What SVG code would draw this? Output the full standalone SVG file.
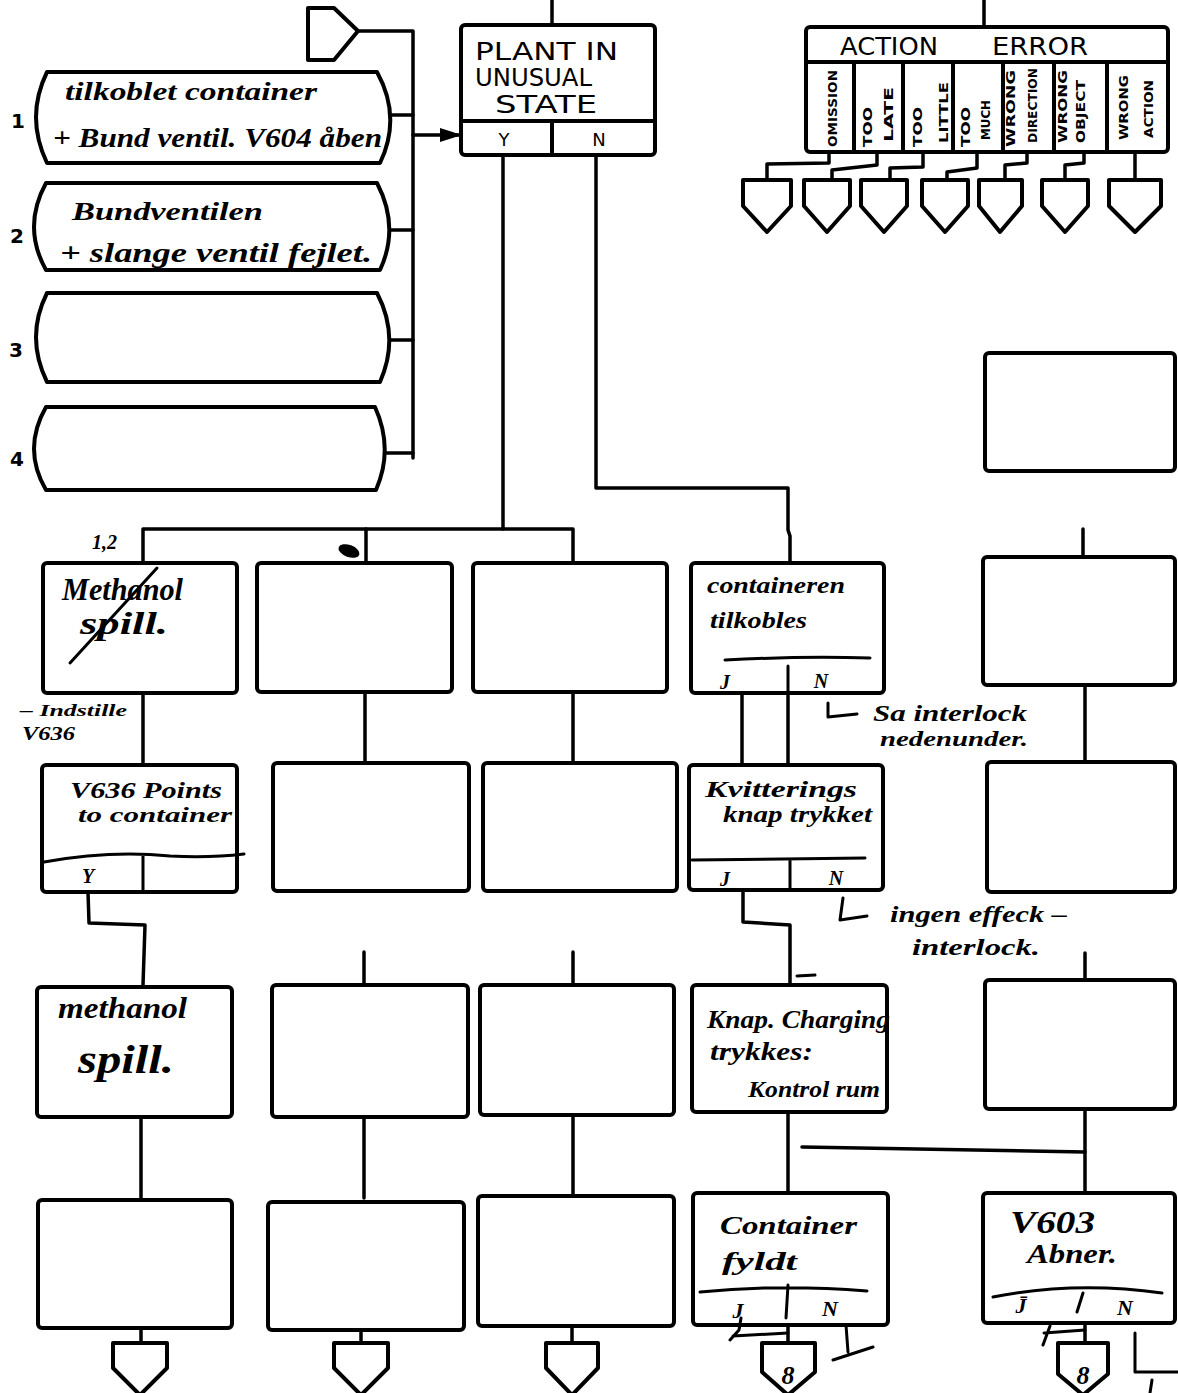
<svg xmlns="http://www.w3.org/2000/svg" width="1178" height="1393" viewBox="0 0 1178 1393">
<style>
.box{fill:#fff;stroke:#000;stroke-width:4;stroke-linejoin:round}
.ln{fill:none;stroke:#000;stroke-width:3.5;stroke-linecap:round;stroke-linejoin:round}
.hl{fill:none;stroke:#000;stroke-width:3;stroke-linecap:round;stroke-linejoin:round}
.hw{font-family:"Liberation Serif","DejaVu Serif",serif;font-style:italic;font-weight:bold;fill:#000}
.cap{font-family:"DejaVu Sans","Liberation Sans",sans-serif;fill:#000}
.col{font-family:"DejaVu Sans","Liberation Sans",sans-serif;font-weight:bold;font-size:12px;fill:#000}
.num{font-family:"DejaVu Sans","Liberation Sans",sans-serif;font-weight:bold;font-size:20px;fill:#000}
</style>
<defs>
<marker id="arr" markerUnits="userSpaceOnUse" markerWidth="22" markerHeight="14" refX="21" refY="7" orient="auto">
<path d="M0,0 L22,7 L0,14 Z" fill="#000"/>
</marker>
</defs>

<g id="connectors">
<path class="ln" d="M358 31 L413 31 L413 458"/>
<path class="ln" d="M391 115 L413 115"/>
<path class="ln" d="M390 230 L413 230"/>
<path class="ln" d="M390 340 L413 340"/>
<path class="ln" d="M385 453 L413 453"/>
<path class="ln" d="M413 135 L461 135" marker-end="url(#arr)"/>
<path class="ln" d="M552 0 L552 25"/>
<path class="ln" d="M984 0 L984 27"/>
<path class="ln" d="M829 152 L829 163 L767 164 L767 180"/>
<path class="ln" d="M877 152 L877 165 L832 170 L832 180"/>
<path class="ln" d="M923 152 L923 167 L890 168 L890 180"/>
<path class="ln" d="M977 152 L977 168 L947 172 L947 180"/>
<path class="ln" d="M1027 152 L1027 163 L1005 165 L1005 180"/>
<path class="ln" d="M1084 152 L1084 163 L1065 165 L1065 180"/>
<path class="ln" d="M1135 152 L1135 180"/>
<path class="ln" d="M503 155 L503 529"/>
<path class="ln" d="M143 563 L143 529 L573 529 L573 563"/>
<path class="ln" d="M366 529 L366 563"/>
<path class="ln" d="M596 155 L596 488 L788 488 L788 530 L790 536 L790 563"/>
<path class="ln" d="M143 693 L143 765"/>
<path class="ln" d="M365 692 L365 763"/>
<path class="ln" d="M573 692 L573 763"/>
<path class="ln" d="M742 693 L742 765"/>
<path class="ln" d="M788 693 L788 765"/>
<path class="ln" d="M1083 529 L1083 557"/>
<path class="ln" d="M1085 685 L1085 762"/>
<path class="ln" d="M88 892 L89 923 L145 925 L143 985"/>
<path class="ln" d="M364 952 L364 985"/>
<path class="ln" d="M573 952 L573 985"/>
<path class="ln" d="M743 890 L743 922 L790 925 L790 985"/>
<path class="hl" d="M797 976 L815 975"/>
<path class="ln" d="M1085 953 L1085 980"/>
<path class="ln" d="M141 1117 L141 1198"/>
<path class="ln" d="M364 1117 L364 1198"/>
<path class="ln" d="M573 1115 L573 1196"/>
<path class="ln" d="M788 1112 L788 1193"/>
<path class="ln" d="M1085 1109 L1085 1193"/>
<path class="ln" d="M802 1147 L1085 1152"/>
<path class="ln" d="M141 1328 L141 1343"/>
<path class="ln" d="M361 1330 L361 1343"/>
<path class="ln" d="M572 1326 L572 1343"/>
<path class="ln" d="M788 1325 L788 1343"/>
<path class="ln" d="M1085 1323 L1085 1343"/>
</g>

<g id="offpage-in"><path class="box" d="M308 8 L334 8 L358 31 L334 60 L308 60 Z"/></g>

<g id="cond-1">
<path class="box" d="M47 72 L377 72 Q402 117 380 163 L47 163 Q25 117 47 72 Z"/>
<text class="num" x="11" y="128">1</text>
<text class="hw" x="65" y="100" font-size="26" textLength="252" lengthAdjust="spacingAndGlyphs">tilkoblet container</text>
<text class="hw" x="53" y="147" font-size="28" textLength="329" lengthAdjust="spacingAndGlyphs">+ Bund ventil. V604 åben</text>
</g>
<g id="cond-2">
<path class="box" d="M46 183 L377 183 Q400 227 380 270 L46 270 Q22 227 46 183 Z"/>
<text class="num" x="10" y="243">2</text>
<text class="hw" x="72" y="220" font-size="26" textLength="191" lengthAdjust="spacingAndGlyphs">Bundventilen</text>
<text class="hw" x="60" y="262" font-size="28" textLength="312" lengthAdjust="spacingAndGlyphs">+ slange ventil fejlet.</text>
</g>
<g id="cond-3">
<path class="box" d="M47 293 L377 293 Q400 337 380 382 L47 382 Q25 337 47 293 Z"/>
<text class="num" x="9" y="357">3</text>
</g>
<g id="cond-4">
<path class="box" d="M46 407 L375 407 Q394 449 376 490 L46 490 Q22 449 46 407 Z"/>
<text class="num" x="10" y="466">4</text>
</g>

<g id="plant-state">
<rect class="box" x="461" y="25" width="194" height="130" rx="4"/>
<path class="box" d="M461 121 L655 121 M552 121 L552 155"/>
<text class="cap" x="475" y="60" font-size="24" textLength="143" lengthAdjust="spacingAndGlyphs">PLANT IN</text>
<text class="cap" x="475" y="86" font-size="24" textLength="117" lengthAdjust="spacingAndGlyphs">UNUSUAL</text>
<text class="cap" x="495" y="113" font-size="24" textLength="102" lengthAdjust="spacingAndGlyphs">STATE</text>
<text class="cap" x="504" y="146" font-size="18" text-anchor="middle">Y</text>
<text class="cap" x="599" y="146" font-size="18" text-anchor="middle">N</text>
</g>

<g id="action-error">
<rect class="box" x="806" y="27" width="362" height="125" rx="4"/>
<path class="box" d="M806 62 L1168 62 M854 62 L854 152 M903 62 L903 152 M953 62 L953 152 M1003 62 L1003 152 M1054 62 L1054 152 M1107 62 L1107 152"/>
<text class="cap" x="840" y="55" font-size="24" textLength="98" lengthAdjust="spacingAndGlyphs">ACTION</text>
<text class="cap" x="992" y="55" font-size="24" textLength="96" lengthAdjust="spacingAndGlyphs">ERROR</text>
<text class="col" transform="translate(837,147) rotate(-90)" textLength="77" lengthAdjust="spacingAndGlyphs">OMISSION</text>
<text class="col" transform="translate(872,147) rotate(-90)" textLength="40" lengthAdjust="spacingAndGlyphs">TOO</text>
<text class="col" transform="translate(893,142) rotate(-90)" textLength="55" lengthAdjust="spacingAndGlyphs">LATE</text>
<text class="col" transform="translate(922,147) rotate(-90)" textLength="40" lengthAdjust="spacingAndGlyphs">TOO</text>
<text class="col" transform="translate(948,143) rotate(-90)" textLength="61" lengthAdjust="spacingAndGlyphs">LITTLE</text>
<text class="col" transform="translate(970,147) rotate(-90)" textLength="40" lengthAdjust="spacingAndGlyphs">TOO</text>
<text class="col" transform="translate(990,140) rotate(-90)" textLength="40" lengthAdjust="spacingAndGlyphs">MUCH</text>
<text class="col" transform="translate(1015,147) rotate(-90)" textLength="77" lengthAdjust="spacingAndGlyphs">WRONG</text>
<text class="col" transform="translate(1037,143) rotate(-90)" textLength="75" lengthAdjust="spacingAndGlyphs">DIRECTION</text>
<text class="col" transform="translate(1067,143) rotate(-90)" textLength="73" lengthAdjust="spacingAndGlyphs">WRONG</text>
<text class="col" transform="translate(1085,143) rotate(-90)" textLength="63" lengthAdjust="spacingAndGlyphs">OBJECT</text>
<text class="col" transform="translate(1128,140) rotate(-90)" textLength="65" lengthAdjust="spacingAndGlyphs">WRONG</text>
<text class="col" transform="translate(1153,138) rotate(-90)" textLength="58" lengthAdjust="spacingAndGlyphs">ACTION</text>
</g>

<g id="out-1"><path class="box" d="M743 180 L791 180 L791 206 L767 232 L743 206 Z"/></g>
<g id="out-2"><path class="box" d="M804 180 L850 180 L850 206 L827 232 L804 206 Z"/></g>
<g id="out-3"><path class="box" d="M861 180 L907 180 L907 206 L884 232 L861 206 Z"/></g>
<g id="out-4"><path class="box" d="M922 180 L968 180 L968 206 L945 232 L922 206 Z"/></g>
<g id="out-5"><path class="box" d="M979 180 L1022 180 L1022 206 L1000 232 L979 206 Z"/></g>
<g id="out-6"><path class="box" d="M1042 180 L1088 180 L1088 206 L1065 232 L1042 206 Z"/></g>
<g id="out-7"><path class="box" d="M1109 180 L1161 180 L1161 206 L1135 232 L1109 206 Z"/></g>

<g id="label-12">
<text class="hw" x="92" y="549" font-size="20">1,2</text>
<ellipse cx="349" cy="551" rx="11" ry="6" fill="#000" transform="rotate(20 349 551)"/>
</g>

<g id="r1-a">
<rect class="box" x="43" y="563" width="194" height="130" rx="4"/>
<text class="hw" x="62" y="600" font-size="32" textLength="121" lengthAdjust="spacingAndGlyphs">Methanol</text>
<text class="hw" x="80" y="634" font-size="32" textLength="88" lengthAdjust="spacingAndGlyphs">spill.</text>
<path class="hl" d="M70 663 L157 568"/>
</g>
<g id="r1-b"><rect class="box" x="257" y="563" width="195" height="129" rx="4"/></g>
<g id="r1-c"><rect class="box" x="473" y="563" width="194" height="129" rx="4"/></g>
<g id="r1-d">
<rect class="box" x="691" y="563" width="193" height="130" rx="4"/>
<text class="hw" x="707" y="593" font-size="24" textLength="138" lengthAdjust="spacingAndGlyphs">containeren</text>
<text class="hw" x="710" y="628" font-size="24" textLength="97" lengthAdjust="spacingAndGlyphs">tilkobles</text>
<path class="hl" d="M725 660 Q800 656 870 658 M788 666 L788 693"/>
<text class="hw" x="725" y="689" font-size="20" text-anchor="middle">J</text>
<text class="hw" x="821" y="688" font-size="20" text-anchor="middle">N</text>
</g>

<g id="note-interlock">
<path class="hl" d="M828 703 L828 717 L857 714"/>
<text class="hw" x="873" y="721" font-size="24" textLength="154" lengthAdjust="spacingAndGlyphs">Sa interlock</text>
<text class="hw" x="880" y="746" font-size="22" textLength="148" lengthAdjust="spacingAndGlyphs">nedenunder.</text>
</g>

<g id="note-indstille">
<text class="hw" x="20" y="716" font-size="16" textLength="107" lengthAdjust="spacingAndGlyphs">– Indstille</text>
<text class="hw" x="22" y="740" font-size="18" textLength="53" lengthAdjust="spacingAndGlyphs">V636</text>
</g>

<g id="r2-a">
<rect class="box" x="42" y="765" width="195" height="127" rx="4"/>
<text class="hw" x="70" y="798" font-size="24" textLength="152" lengthAdjust="spacingAndGlyphs">V636 Points</text>
<text class="hw" x="78" y="822" font-size="22" textLength="154" lengthAdjust="spacingAndGlyphs">to container</text>
<path class="hl" d="M44 862 Q110 850 170 856 Q210 858 244 854 M143 856 L143 892"/>
<text class="hw" x="88" y="883" font-size="20" text-anchor="middle">Y</text>
</g>
<g id="r2-b"><rect class="box" x="273" y="763" width="196" height="128" rx="4"/></g>
<g id="r2-c"><rect class="box" x="483" y="763" width="194" height="128" rx="4"/></g>
<g id="r2-d">
<rect class="box" x="689" y="765" width="194" height="125" rx="4"/>
<text class="hw" x="705" y="797" font-size="24" textLength="152" lengthAdjust="spacingAndGlyphs">Kvitterings</text>
<text class="hw" x="723" y="822" font-size="24" textLength="149" lengthAdjust="spacingAndGlyphs">knap trykket</text>
<path class="hl" d="M692 860 L865 858 M790 860 L790 888"/>
<text class="hw" x="725" y="886" font-size="20" text-anchor="middle">J</text>
<text class="hw" x="836" y="885" font-size="20" text-anchor="middle">N</text>
</g>

<g id="note-ingen">
<path class="hl" d="M843 898 L840 920 L867 916"/>
<text class="hw" x="890" y="922" font-size="24" textLength="177" lengthAdjust="spacingAndGlyphs">ingen effeck –</text>
<text class="hw" x="912" y="955" font-size="24" textLength="128" lengthAdjust="spacingAndGlyphs">interlock.</text>
</g>

<g id="r0-e"><rect class="box" x="985" y="353" width="190" height="118" rx="4"/></g>
<g id="r1-e"><rect class="box" x="983" y="557" width="192" height="128" rx="4"/></g>
<g id="r2-e"><rect class="box" x="987" y="762" width="188" height="130" rx="4"/></g>
<g id="r3-e"><rect class="box" x="985" y="980" width="190" height="129" rx="4"/></g>

<g id="r3-a">
<rect class="box" x="37" y="987" width="195" height="130" rx="4"/>
<text class="hw" x="58" y="1018" font-size="30" textLength="129" lengthAdjust="spacingAndGlyphs">methanol</text>
<text class="hw" x="78" y="1073" font-size="40" textLength="96" lengthAdjust="spacingAndGlyphs">spill.</text>
</g>
<g id="r3-b"><rect class="box" x="272" y="985" width="196" height="132" rx="4"/></g>
<g id="r3-c"><rect class="box" x="480" y="985" width="194" height="130" rx="4"/></g>
<g id="r3-d">
<rect class="box" x="692" y="985" width="195" height="127" rx="4"/>
<text class="hw" x="707" y="1028" font-size="26" textLength="183" lengthAdjust="spacingAndGlyphs">Knap. Charging</text>
<text class="hw" x="710" y="1060" font-size="26" textLength="103" lengthAdjust="spacingAndGlyphs">trykkes:</text>
<text class="hw" x="748" y="1097" font-size="24" textLength="132" lengthAdjust="spacingAndGlyphs">Kontrol rum</text>
</g>

<g id="r4-a"><rect class="box" x="38" y="1200" width="194" height="128" rx="4"/></g>
<g id="r4-b"><rect class="box" x="268" y="1202" width="196" height="128" rx="4"/></g>
<g id="r4-c"><rect class="box" x="478" y="1196" width="196" height="130" rx="4"/></g>
<g id="r4-d">
<rect class="box" x="693" y="1193" width="195" height="132" rx="4"/>
<text class="hw" x="720" y="1234" font-size="25" textLength="137" lengthAdjust="spacingAndGlyphs">Container</text>
<text class="hw" x="722" y="1270" font-size="25" textLength="75" lengthAdjust="spacingAndGlyphs">fyldt</text>
<path class="hl" d="M700 1292 Q780 1284 867 1291 M788 1285 L786 1318"/>
<text class="hw" x="738" y="1318" font-size="22" text-anchor="middle">J</text>
<text class="hw" x="830" y="1316" font-size="22" text-anchor="middle">N</text>
<path class="hl" d="M741 1318 L739 1330 L730 1340 M733 1336 L788 1333 M846 1325 L848 1352 M833 1360 L873 1347"/>
</g>
<g id="r4-e">
<rect class="box" x="983" y="1193" width="192" height="130" rx="4"/>
<text class="hw" x="1010" y="1233" font-size="32" font-style="normal" textLength="85" lengthAdjust="spacingAndGlyphs">V603</text>
<text class="hw" x="1027" y="1263" font-size="28" textLength="90" lengthAdjust="spacingAndGlyphs">Abner.</text>
<path class="hl" d="M993 1297 Q1075 1281 1162 1293 M1083 1293 L1077 1312"/>
<text class="hw" x="1021" y="1313" font-size="22" text-anchor="middle">J̄</text>
<text class="hw" x="1125" y="1315" font-size="22" text-anchor="middle">N</text>
<path class="hl" d="M1050 1326 L1043 1345 M1044 1333 L1085 1330 M1135 1333 L1135 1372 L1178 1372 M1152 1380 L1150 1393"/>
</g>

<g id="out-a"><path class="box" d="M113 1343 L167 1343 L167 1368 L140 1395 L113 1368 Z"/></g>
<g id="out-b"><path class="box" d="M334 1343 L388 1343 L388 1368 L361 1395 L334 1368 Z"/></g>
<g id="out-c"><path class="box" d="M546 1343 L598 1343 L598 1368 L572 1395 L546 1368 Z"/></g>
<g id="out-d">
<path class="box" d="M762 1343 L815 1343 L815 1372 L788 1395 L762 1372 Z"/>
<text class="hw" x="788" y="1384" font-size="26" font-style="normal" text-anchor="middle">8</text>
</g>
<g id="out-e">
<path class="box" d="M1058 1343 L1108 1343 L1108 1374 L1083 1395 L1058 1374 Z"/>
<text class="hw" x="1083" y="1384" font-size="26" font-style="normal" text-anchor="middle">8</text>
</g>
</svg>
